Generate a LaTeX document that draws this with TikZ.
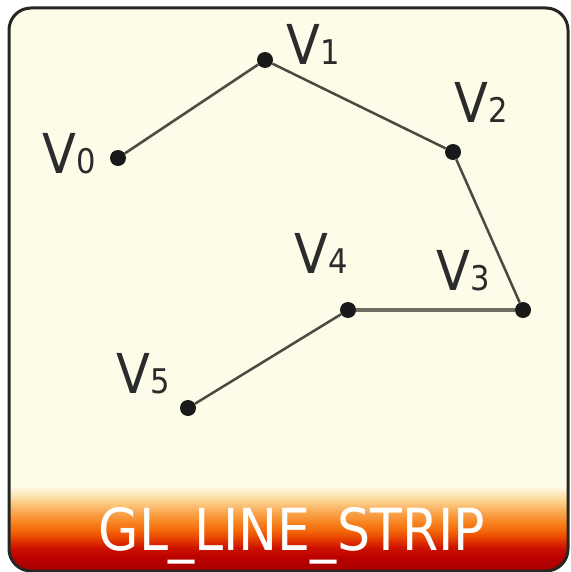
\documentclass[tikz,border=0pt]{standalone}
\usepackage{fontspec}
\setmainfont{DejaVu Sans}
\usepackage{graphicx}
\definecolor{cream}{HTML}{FDFCE8}
\definecolor{framecol}{HTML}{262622}
\definecolor{edgecol}{HTML}{4A4A42}
\definecolor{edgecolB}{HTML}{6E6E60}
\definecolor{labelcol}{HTML}{2B2B2B}
\definecolor{gA}{HTML}{FCE2AC}
\definecolor{gB}{HTML}{FBC57C}
\definecolor{gC}{HTML}{F9A24A}
\definecolor{gD}{HTML}{F78420}
\definecolor{gE}{HTML}{F36408}
\definecolor{gF}{HTML}{E43C00}
\definecolor{gG}{HTML}{CE1400}
\definecolor{gH}{HTML}{BC0200}
\definecolor{gI}{HTML}{A40000}
\newcommand\vsub[1]{{\fontsize{34}{34}\selectfont #1}}
\newcommand\vlab[1]{\scalebox{0.9}[1]{V\vsub{#1}}}
\begin{document}
\begin{tikzpicture}[x=1pt,y=-1pt,
  dot/.style={circle,fill=black!90,inner sep=0pt,minimum size=16pt},
  edge/.style={draw=edgecol,line width=2.5pt},
  edgethick/.style={draw=edgecolB,line width=4.5pt},
  lbl/.style={inner sep=0pt,anchor=base west,text=labelcol,font=\fontsize{55}{55}\selectfont},
  titletext/.style={inner sep=0pt,anchor=base,text=white,font=\fontsize{58}{58}\selectfont},
  framebox/.style={draw=framecol,line width=3pt,rounded corners=22pt}]
\useasboundingbox (0,0) rectangle (570,572);
\fill[white] (0,0) rectangle (570,572);
\begin{scope}
  \clip[rounded corners=22pt] (9,8) rectangle (568,571);
  \fill[cream] (0,0) rectangle (570,572);
  \shade[top color=cream, bottom color=gA] (0,486) rectangle (570,496.5);
  \shade[top color=gA, bottom color=gB] (0,496) rectangle (570,504.5);
  \shade[top color=gB, bottom color=gC] (0,504) rectangle (570,513.5);
  \shade[top color=gC, bottom color=gD] (0,513) rectangle (570,522.5);
  \shade[top color=gD, bottom color=gE] (0,522) rectangle (570,531.5);
  \shade[top color=gE, bottom color=gF] (0,531) rectangle (570,539.5);
  \shade[top color=gF, bottom color=gG] (0,539) rectangle (570,547.5);
  \shade[top color=gG, bottom color=gH] (0,547) rectangle (570,556.5);
  \shade[top color=gH, bottom color=gI] (0,556) rectangle (570,572);
\end{scope}
\draw[framebox] (9,8) rectangle (568,571);

\node[dot] (v0) at (118,158) {};
\node[dot] (v1) at (265,60) {};
\node[dot] (v2) at (453,152) {};
\node[dot] (v3) at (523,310) {};
\node[dot] (v4) at (348,310) {};
\node[dot] (v5) at (188,408) {};

\draw[edge] (v0) -- (v1);
\draw[edge] (v1) -- (v2);
\draw[edge] (v2) -- (v3);
\draw[edgethick] (v3) -- (v4);
\draw[edge] (v4) -- (v5);

\node[lbl] (l0) at (42,173) {\vlab{0}};
\node[lbl] (l1) at (286,65) {\vlab{1}};
\node[lbl] (l2) at (454,123) {\vlab{2}};
\node[lbl] (l3) at (436,290) {\vlab{3}};
\node[lbl] (l4) at (294,273) {\vlab{4}};
\node[lbl] (l5) at (116,393) {\vlab{5}};

\node[titletext] (title) at (292,550) {\scalebox{0.9}[1]{GL\_LINE\_STRIP}};
\end{tikzpicture}
\end{document}
